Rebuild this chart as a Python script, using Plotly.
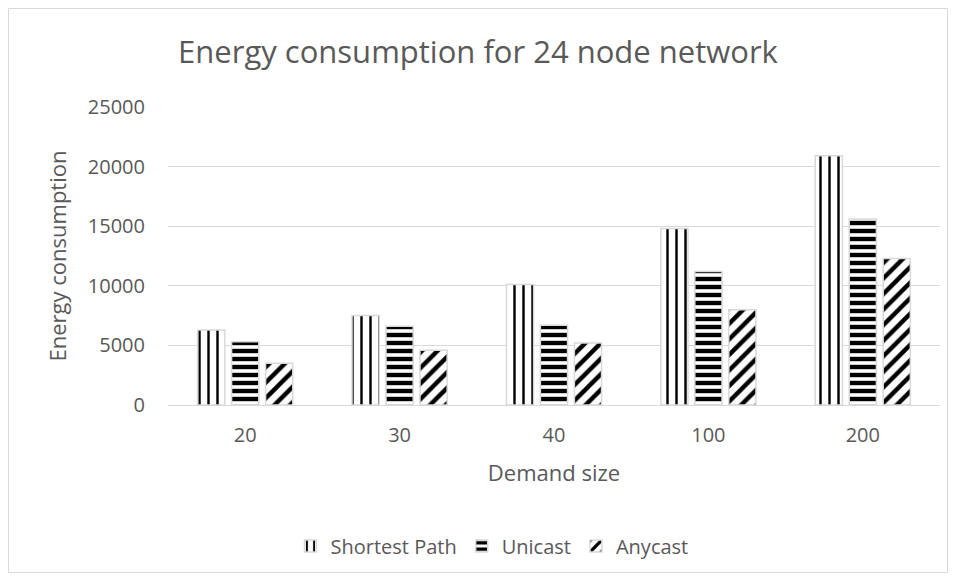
import plotly.graph_objects as go

categories = ["20", "30", "40", "100", "200"]
shortest_path = [6300, 7500, 10100, 14800, 20900]
unicast = [5300, 6600, 6700, 11200, 15600]
anycast = [3500, 4600, 5200, 8000, 12300]
y_ticks = [0, 5000, 10000, 15000, 20000, 25000]

FONT = "Open Sans"
GRAY = "#595959"
GRID = "#d9d9d9"

fig = go.Figure()
series = [
    ("Shortest Path", shortest_path, "|", 9, 0.27),
    ("Unicast", unicast, "-", 8, 0.55),
    ("Anycast", anycast, "/", 11, 0.4),
]
for name, vals, shape, size, sol in series:
    fig.add_trace(go.Bar(
        name=name, x=categories, y=vals,
        marker=dict(
            color="white",
            line=dict(color=GRID, width=1.5),
            pattern=dict(shape=shape, fgcolor="black", bgcolor="white",
                         size=size, solidity=sol, fillmode="replace"),
        ),
    ))

# page body has an 8px margin; figure coordinates = screen - 8
OFF = 8
L, R, T, B = 160, 8, 99, 168
W, H = 940, 565
pw, ph = W - L - R, H - T - B

def px(x):
    return (x - OFF - L) / pw

def py(y):
    return (H - B - (y - OFF)) / ph

fig.update_layout(
    width=W, height=H,
    margin=dict(l=L, r=R, t=T, b=B),
    paper_bgcolor="white", plot_bgcolor="white",
    barmode="group", bargap=0.34, bargroupgap=0.2,
    font=dict(family=FONT, color=GRAY, size=20),
    title=dict(text="Energy consumption for 24 node network",
               x=(478 - OFF) / W, xref="container", xanchor="center",
               y=1 - (52 - OFF) / H, yref="container", yanchor="middle",
               font=dict(family=FONT, size=31, color=GRAY)),
    showlegend=True,
    legend=dict(orientation="h", x=px(492), xanchor="center",
                y=py(546), yanchor="middle",
                font=dict(size=20, color=GRAY), itemwidth=30,
                traceorder="normal"),
    shapes=[dict(type="rect", xref="paper", yref="paper",
                 x0=px(8.5), x1=px(947.5), y0=py(572.5), y1=py(8.5),
                 line=dict(color=GRID, width=1), fillcolor="rgba(0,0,0,0)",
                 layer="below")],
)
fig.update_xaxes(
    title=dict(text="Demand size", font=dict(size=22, color=GRAY), standoff=18),
    showgrid=False, showline=True, linecolor=GRID, linewidth=1,
    ticks="", tickfont=dict(size=20, color=GRAY), ticklabelstandoff=12,
)
fig.update_yaxes(
    title=dict(text="Energy consumption", font=dict(size=22, color=GRAY), standoff=15),
    range=[0, 25000], tickvals=y_ticks, ticktext=[str(v) for v in y_ticks],
    showgrid=True, gridcolor=GRID, gridwidth=1, zeroline=False,
    showline=False, ticks="", tickfont=dict(size=20, color=GRAY),
    ticklabelstandoff=22,
)
fig.write_html("out.html")
